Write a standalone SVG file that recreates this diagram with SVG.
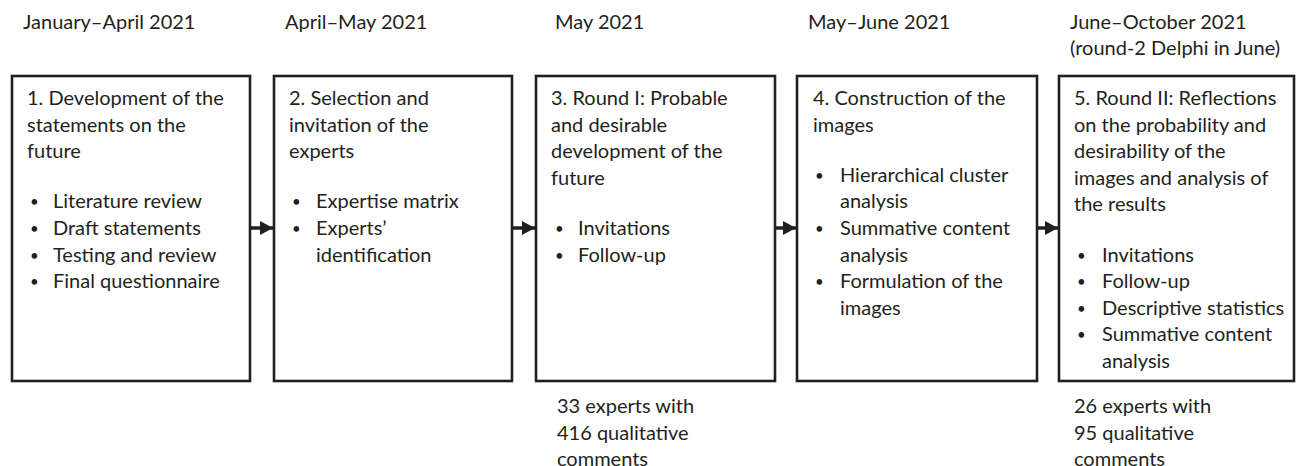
<svg xmlns="http://www.w3.org/2000/svg" width="1296" height="466" viewBox="0 0 1296 466">
<style>
text{font-family:Lato,"Open Sans","Liberation Sans",sans-serif;font-size:20px;fill:#231f20}
text.b{font-size:15px}
.box{fill:#fff;stroke:#231f20;stroke-width:2.6}
.conn{stroke:#231f20;stroke-width:3.5;fill:none}
</style>
<defs>
<marker id="ah" viewBox="0 0 13 14" refX="13" refY="7" markerWidth="13" markerHeight="14" markerUnits="userSpaceOnUse" orient="auto">
<path d="M0,0 L13,7 L0,14 z" fill="#231f20"/>
</marker>
</defs>
<rect width="1296" height="466" fill="#fff"/>
<g id="dates">
<text x="23" y="29">January–April 2021</text>
<text x="285" y="29">April–May 2021</text>
<text x="555" y="29">May 2021</text>
<text x="808" y="29">May–June 2021</text>
<text x="1070" y="29">June–October 2021</text>
<text x="1070" y="55">(round-2 Delphi in June)</text>
</g>
<g id="connectors">
<line class="conn" x1="250" y1="228" x2="273" y2="228" marker-end="url(#ah)"/>
<line class="conn" x1="512" y1="228" x2="535" y2="228" marker-end="url(#ah)"/>
<line class="conn" x1="775" y1="228" x2="796" y2="228" marker-end="url(#ah)"/>
<line class="conn" x1="1037" y1="228" x2="1058" y2="228" marker-end="url(#ah)"/>
</g>
<g id="node1">
<rect class="box" x="12" y="76" width="238" height="305"/>
<text x="27" y="105">1. Development of the</text>
<text x="27" y="132">statements on the</text>
<text x="27" y="158">future</text>
<text class="b" x="30" y="207">•</text><text x="53" y="208">Literature review</text>
<text class="b" x="30" y="234">•</text><text x="53" y="235">Draft statements</text>
<text class="b" x="30" y="261">•</text><text x="53" y="262">Testing and review</text>
<text class="b" x="30" y="287">•</text><text x="53" y="288">Final questionnaire</text>
</g>
<g id="node2">
<rect class="box" x="274" y="76" width="238" height="305"/>
<text x="289" y="105">2. Selection and</text>
<text x="289" y="132">invitation of the</text>
<text x="289" y="158">experts</text>
<text class="b" x="292" y="207">•</text><text x="316" y="208">Expertise matrix</text>
<text class="b" x="292" y="234">•</text><text x="316" y="235">Experts’</text>
<text x="316" y="262">identification</text>
</g>
<g id="node3">
<rect class="box" x="536" y="76" width="239" height="305"/>
<text x="551" y="105">3. Round I: Probable</text>
<text x="551" y="132">and desirable</text>
<text x="551" y="158">development of the</text>
<text x="551" y="185">future</text>
<text class="b" x="555" y="234">•</text><text x="578" y="235">Invitations</text>
<text class="b" x="555" y="261">•</text><text x="578" y="262">Follow-up</text>
<text x="557" y="413">33 experts with</text>
<text x="557" y="440">416 qualitative</text>
<text x="557" y="466">comments</text>
</g>
<g id="node4">
<rect class="box" x="797" y="76" width="240" height="305"/>
<text x="813" y="105">4. Construction of the</text>
<text x="813" y="132">images</text>
<text class="b" x="815" y="181">•</text><text x="840" y="182">Hierarchical cluster</text>
<text x="840" y="208">analysis</text>
<text class="b" x="815" y="234">•</text><text x="840" y="235">Summative content</text>
<text x="840" y="262">analysis</text>
<text class="b" x="815" y="287">•</text><text x="840" y="288">Formulation of the</text>
<text x="840" y="315">images</text>
</g>
<g id="node5">
<rect class="box" x="1059" y="76" width="235" height="305"/>
<text x="1074" y="105">5. Round II: Reflections</text>
<text x="1074" y="132">on the probability and</text>
<text x="1074" y="158">desirability of the</text>
<text x="1074" y="185">images and analysis of</text>
<text x="1074" y="211">the results</text>
<text class="b" x="1077" y="261">•</text><text x="1102" y="262">Invitations</text>
<text class="b" x="1077" y="287">•</text><text x="1102" y="288">Follow-up</text>
<text class="b" x="1077" y="314">•</text><text x="1102" y="315">Descriptive statistics</text>
<text class="b" x="1077" y="340">•</text><text x="1102" y="341">Summative content</text>
<text x="1102" y="368">analysis</text>
<text x="1074" y="413">26 experts with</text>
<text x="1074" y="440">95 qualitative</text>
<text x="1074" y="466">comments</text>
</g>
</svg>
